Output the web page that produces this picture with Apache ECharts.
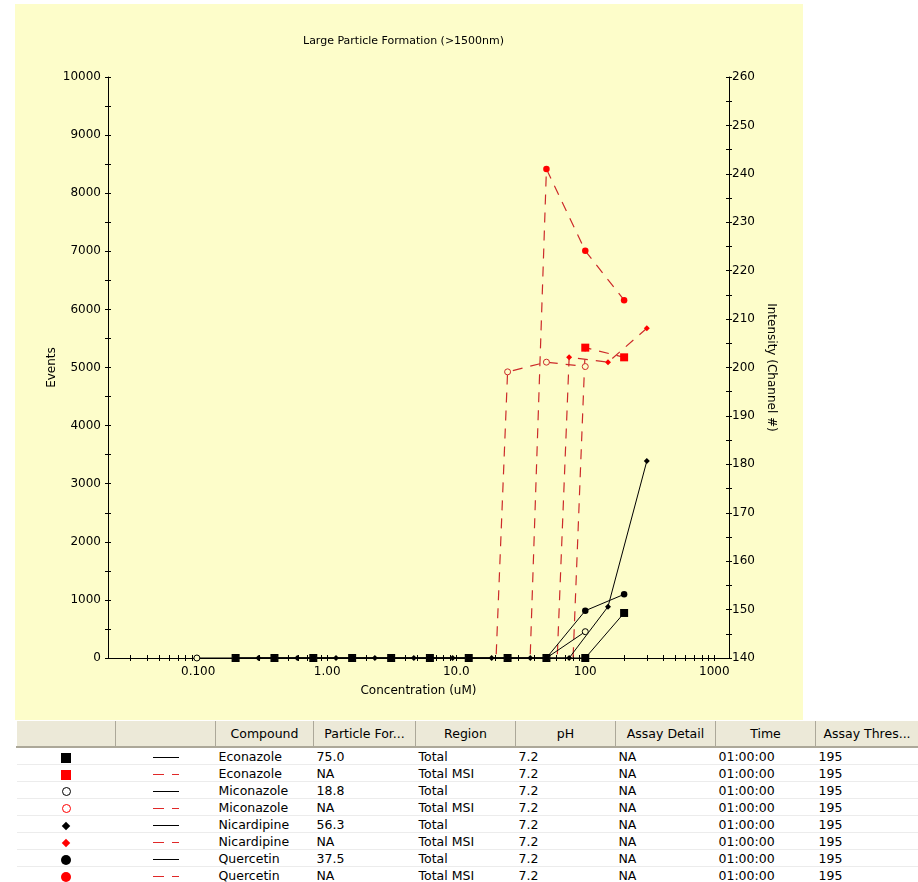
<!DOCTYPE html>
<html>
<head>
<meta charset="utf-8">
<script src="https://cdn.jsdelivr.net/npm/echarts@6/dist/echarts.min.js"></script>
<style>
  html, body { margin: 0; padding: 0; background: #ffffff; width: 918px; height: 882px; overflow: hidden; }
  #panel { position: absolute; left: 15px; top: 4px; width: 788px; height: 716px; background: #fdfdca; }
  #chart { position: absolute; left: 0; top: 0; width: 918px; height: 720px; }
  table.grid {
    position: absolute; left: 16px; top: 721px; width: 902px;
    border-collapse: collapse; table-layout: fixed;
    font-family: "DejaVu Sans", sans-serif; font-size: 12.5px; color: #000;
  }
  table.grid th {
    height: 25px; padding: 0; font-weight: normal; text-align: center;
    background: #ece9d8; border-bottom: 2px solid #aca899;
    border-right: 1px solid #aca899; border-left: 1px solid #ffffff;
    white-space: nowrap; overflow: hidden;
  }
  table.grid td {
    height: 14px; padding: 2px 3px 0 3px; border-bottom: 1px solid #ececec;
    white-space: nowrap; overflow: hidden; line-height: 14px;
  }
  td.sym, td.ln { text-align: center; }
  .sq { display: inline-block; width: 10px; height: 10px; vertical-align: middle; }
  .dot { display: inline-block; width: 10px; height: 10px; border-radius: 50%; vertical-align: middle; }
  .ring { display: inline-block; width: 7px; height: 7px; border-radius: 50%; border: 1px solid; vertical-align: middle; }
  .dia { display: inline-block; width: 6px; height: 6px; transform: rotate(45deg); vertical-align: middle; }
  .solid { display: inline-block; width: 26px; height: 0; border-top: 1px solid #000; vertical-align: middle; }
  .dash { display: inline-block; height: 0; border-top: 1px solid #e02828; vertical-align: middle; }
</style>
</head>
<body>
<div id="panel"></div>
<div id="chart"></div>
<table class="grid" id="legendTable"></table>
<script>
// Concentration series (uM), two-fold dilutions per compound
const econazoleConc   = [0.195, 0.39, 0.78, 1.56, 3.13, 6.25, 12.5, 25, 50, 100, 200];
const miconazoleConc  = [0.0977, 0.195, 0.39, 0.78, 1.56, 3.13, 6.25, 12.5, 25, 50, 100];
const nicardipineConc = [0.293, 0.586, 1.17, 2.34, 4.69, 9.38, 18.8, 37.5, 75, 150, 300];
const quercetinConc   = [0.195, 0.39, 0.78, 1.56, 3.13, 6.25, 12.5, 25, 50, 100, 200];

// Large-particle events (left axis)
const econazoleEvents   = [0, 0, 0, 0, 0, 0, 0, 0, 0, 0, 775];
const miconazoleEvents  = [0, 0, 0, 0, 0, 0, 0, 0, 0, 0, 453];
const nicardipineEvents = [0, 0, 0, 0, 0, 0, 0, 0, 0, 883, 3390];
const quercetinEvents   = [0, 0, 0, 0, 0, 0, 0, 0, 0, 814, 1096];

// MSI intensity, channel # (right axis)
const econazoleMSI   = [0, 0, 0, 0, 0, 0, 0, 0, 0, 204.1, 202.1];
const miconazoleMSI  = [0, 0, 0, 0, 0, 0, 0, 0, 199.1, 201.1, 200.2];
const nicardipineMSI = [0, 0, 0, 0, 0, 0, 0, 0, 202.1, 201.1, 208.1];
const quercetinMSI   = [0, 0, 0, 0, 0, 0, 0, 0, 241.0, 224.1, 213.9];

// Axis tick labels
const xTickValues = [0.1, 1, 10, 100, 1000];
const xTickLabels = ['0.100', '1.00', '10.0', '100', '1000'];

// Table rows
const tableHeaders = ['', '', 'Compound', 'Particle For...', 'Region', 'pH', 'Assay Detail', 'Time', 'Assay Thres...'];
const compounds    = ['Econazole', 'Econazole', 'Miconazole', 'Miconazole', 'Nicardipine', 'Nicardipine', 'Quercetin', 'Quercetin'];
const particleFor  = ['75.0', 'NA', '18.8', 'NA', '56.3', 'NA', '37.5', 'NA'];
const regions      = ['Total', 'Total MSI', 'Total', 'Total MSI', 'Total', 'Total MSI', 'Total', 'Total MSI'];
const phValues     = ['7.2', '7.2', '7.2', '7.2', '7.2', '7.2', '7.2', '7.2'];
const assayDetails = ['NA', 'NA', 'NA', 'NA', 'NA', 'NA', 'NA', 'NA'];
const times        = ['01:00:00', '01:00:00', '01:00:00', '01:00:00', '01:00:00', '01:00:00', '01:00:00', '01:00:00'];
const thresholds   = ['195', '195', '195', '195', '195', '195', '195', '195'];
const rowSymbols   = ['sq', 'sq', 'ring', 'ring', 'dia', 'dia', 'dot', 'dot'];

const FONT = 'DejaVu Sans';
const BG = '#fdfdca';
const RED = '#ff0000';
const RED_LINE = '#cc2a2a';
const X_MIN = 0.02, X_MAX = 1300;

function zip(xs, ys) { return xs.map((x, i) => [x, ys[i]]); }

// Tick positions of the log axis (multiples 1..9 of each decade)
const logTicks = [];
for (let e = -2; e <= 3; e++) {
  for (let m = 1; m <= 9; m++) {
    const v = m * Math.pow(10, e);
    if (v > X_MIN && v <= 1000 + 1e-9) logTicks.push(Math.log10(v));
  }
}

const gridRect = { left: 108, top: 77, width: 621, height: 581, containLabel: false, outerBoundsMode: 'none' };

// Overlay axes: ticks only, so that each tick crosses its axis line
function tickAxisX(gridIndex, inside) {
  return {
    type: 'value', gridIndex, position: 'bottom',
    min: Math.log10(X_MIN), max: Math.log10(X_MAX),
    axisLine: { show: false, onZero: false }, splitLine: { show: false }, axisLabel: { show: false },
    axisTick: { show: true, inside, length: 3, customValues: logTicks, lineStyle: { color: '#000', width: 1 } }
  };
}
function tickAxisY(gridIndex, position, min, max, interval, inside) {
  return {
    type: 'value', gridIndex, position, min, max, interval,
    axisLine: { show: false, onZero: false }, splitLine: { show: false }, axisLabel: { show: false },
    axisTick: { show: true, inside, length: 3, lineStyle: { color: '#000' } },
    minorTick: { show: true, splitNumber: 2, length: 3, lineStyle: { color: '#000' } }
  };
}

function totalSeries(conc, events, symbol, size, hollow) {
  return {
    type: 'line', xAxisIndex: 0, yAxisIndex: 0, clip: false,
    data: zip(conc, events), symbol, symbolSize: size, showSymbol: true,
    lineStyle: { color: '#000', width: 1 },
    itemStyle: hollow ? { color: BG, borderColor: '#000', borderWidth: 1 } : { color: '#000' },
    z: 3
  };
}
function msiSeries(conc, msi, symbol, size, hollow) {
  return {
    type: 'line', xAxisIndex: 0, yAxisIndex: 1, clip: true,
    data: zip(conc, msi), symbol, symbolSize: size, showSymbol: true,
    lineStyle: { color: RED_LINE, width: 1.2, type: [10, 8] },
    itemStyle: hollow ? { color: BG, borderColor: RED_LINE, borderWidth: 1 } : { color: RED },
    z: 2
  };
}

const chart = echarts.init(document.getElementById('chart'), null, { renderer: 'canvas' });
chart.setOption({
  animation: false,
  backgroundColor: 'transparent',
  textStyle: { fontFamily: FONT },
  title: {
    text: 'Large Particle Formation (>1500nm)', left: 303, top: 36, padding: 0,
    textStyle: { fontFamily: FONT, fontSize: 11, fontWeight: 'normal', color: '#000' }
  },
  grid: [Object.assign({}, gridRect), Object.assign({}, gridRect), Object.assign({}, gridRect)],
  xAxis: [
    {
      type: 'log', logBase: 10, gridIndex: 0, min: X_MIN, max: X_MAX,
      name: 'Concentration (uM)', nameLocation: 'middle', nameGap: 27, nameMoveOverlap: false,
      nameTextStyle: { fontFamily: FONT, fontSize: 12, color: '#000' },
      axisLine: { show: true, onZero: false, lineStyle: { color: '#000', width: 1 } },
      axisTick: { show: false }, splitLine: { show: false }, minorTick: { show: false },
      axisLabel: {
        fontFamily: FONT, fontSize: 12, color: '#000', margin: 8,
        showMinLabel: false, showMaxLabel: false,
        formatter: function (v) {
          for (let i = 0; i < xTickValues.length; i++) {
            if (Math.abs(Math.log10(v) - Math.log10(xTickValues[i])) < 1e-6) return xTickLabels[i];
          }
          return '';
        }
      }
    },
    tickAxisX(1, false),
    tickAxisX(2, true)
  ],
  yAxis: [
    {
      type: 'value', gridIndex: 0, position: 'left', min: 0, max: 10000, interval: 1000,
      name: 'Events', nameLocation: 'middle', nameGap: 50, nameMoveOverlap: false,
      nameTextStyle: { fontFamily: FONT, fontSize: 12, color: '#000' },
      axisLine: { show: true, onZero: false, lineStyle: { color: '#000', width: 1 } },
      axisTick: { show: true, inside: false, length: 3, lineStyle: { color: '#000' } },
      minorTick: { show: true, splitNumber: 2, length: 3, lineStyle: { color: '#000' } },
      splitLine: { show: false },
      axisLabel: { fontFamily: FONT, fontSize: 12, color: '#000', margin: 7, formatter: v => String(v) }
    },
    {
      type: 'value', gridIndex: 0, position: 'right', min: 140, max: 260, interval: 10,
      name: 'Intensity (Channel #)', nameLocation: 'middle', nameGap: 36, nameRotate: -90, nameMoveOverlap: false,
      nameTextStyle: { fontFamily: FONT, fontSize: 12, color: '#000' },
      axisLine: { show: true, onZero: false, lineStyle: { color: '#000', width: 1 } },
      axisTick: { show: true, inside: false, length: 3, lineStyle: { color: '#000' } },
      minorTick: { show: true, splitNumber: 2, length: 3, lineStyle: { color: '#000' } },
      splitLine: { show: false },
      axisLabel: { fontFamily: FONT, fontSize: 12, color: '#000', margin: 3, formatter: v => String(v) }
    },
    tickAxisY(1, 'left', 0, 10000, 1000, true),
    tickAxisY(1, 'right', 140, 260, 10, true),
    { type: 'value', gridIndex: 2, show: false, min: 0, max: 1, axisLine: { onZero: false } }
  ],
  series: [
    msiSeries(econazoleConc, econazoleMSI, 'rect', 8, false),
    msiSeries(miconazoleConc, miconazoleMSI, 'circle', 6, true),
    msiSeries(nicardipineConc, nicardipineMSI, 'diamond', 6, false),
    msiSeries(quercetinConc, quercetinMSI, 'circle', 6.5, false),
    totalSeries(econazoleConc, econazoleEvents, 'rect', 8, false),
    totalSeries(miconazoleConc, miconazoleEvents, 'circle', 6, true),
    totalSeries(nicardipineConc, nicardipineEvents, 'diamond', 6, false),
    totalSeries(quercetinConc, quercetinEvents, 'circle', 6.5, false)
  ]
});

// Series key table under the chart
const colWidths = [99, 100, 98, 102, 100, 100, 100, 100, 103];
const table = document.getElementById('legendTable');
const colgroup = document.createElement('colgroup');
colWidths.forEach(w => { const c = document.createElement('col'); c.style.width = w + 'px'; colgroup.appendChild(c); });
table.appendChild(colgroup);
const head = document.createElement('tr');
tableHeaders.forEach(h => { const th = document.createElement('th'); th.textContent = h; head.appendChild(th); });
table.appendChild(head);

function symbolHtml(kind, red) {
  const c = red ? RED : '#000';
  if (kind === 'sq') return '<span class="sq" style="background:' + c + '"></span>';
  if (kind === 'dot') return '<span class="dot" style="background:' + c + '"></span>';
  if (kind === 'ring') return '<span class="ring" style="border-color:' + c + '"></span>';
  return '<span class="dia" style="background:' + c + '"></span>';
}
function lineHtml(red) {
  if (!red) return '<span class="solid"></span>';
  return '<span class="dash" style="width:11px"></span><span style="display:inline-block;width:8px"></span><span class="dash" style="width:7px"></span>';
}

compounds.forEach((name, i) => {
  const red = i % 2 === 1;
  const tr = document.createElement('tr');
  const cells = [symbolHtml(rowSymbols[i], red), lineHtml(red), name, particleFor[i], regions[i], phValues[i], assayDetails[i], times[i], thresholds[i]];
  cells.forEach((html, j) => {
    const td = document.createElement('td');
    if (j === 0) td.className = 'sym';
    if (j === 1) td.className = 'ln';
    if (j < 2) td.innerHTML = html; else td.textContent = html;
    tr.appendChild(td);
  });
  table.appendChild(tr);
});
</script>
</body>
</html>
